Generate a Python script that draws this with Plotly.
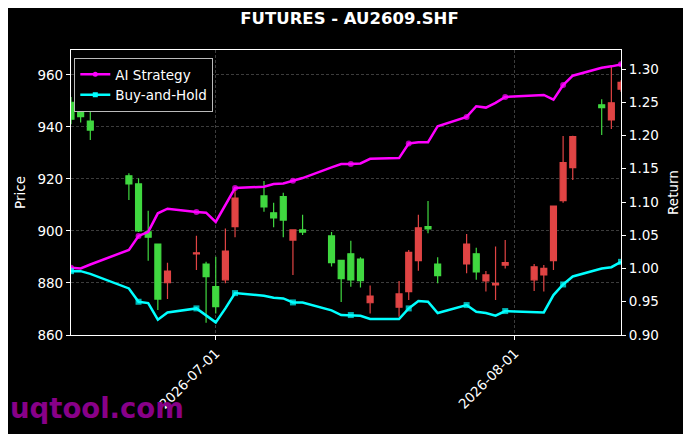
import plotly.graph_objects as go

# trading days shown on the chart
dates = [
    "2026-06-16", "2026-06-17", "2026-06-18", "2026-06-22", "2026-06-23",
    "2026-06-24", "2026-06-25", "2026-06-26", "2026-06-29", "2026-06-30",
    "2026-07-01", "2026-07-02", "2026-07-03", "2026-07-06", "2026-07-07",
    "2026-07-08", "2026-07-09", "2026-07-10", "2026-07-13", "2026-07-14",
    "2026-07-15", "2026-07-16", "2026-07-17", "2026-07-20", "2026-07-21",
    "2026-07-22", "2026-07-23", "2026-07-24", "2026-07-27", "2026-07-28",
    "2026-07-29", "2026-07-30", "2026-07-31", "2026-08-03", "2026-08-04",
    "2026-08-05", "2026-08-06", "2026-08-07", "2026-08-10", "2026-08-11",
    "2026-08-12",
]

opens = [949.5, 949.0, 942.3, 921.2, 918.1, 899.7, 895.0, 880.1, 891.2, 887.3,
         878.6, 881.2, 901.7, 913.5, 907.0, 913.2, 896.5, 900.4, 898.1, 888.7,
         891.2, 889.2, 872.4, 870.7, 876.7, 888.6, 901.7, 887.3, 887.3, 891.2,
         880.8, 879.3, 886.9, 881.2, 883.1, 888.6, 911.7, 924.4, 948.5, 942.7,
         954.5]
highs = [951.5, 950.0, 953.0, 922.2, 920.3, 907.8, 895.2, 887.8, 898.2, 888.2,
         890.1, 901.0, 915.8, 919.2, 910.9, 914.7, 900.6, 906.2, 899.6, 888.9,
         896.2, 889.9, 879.0, 880.8, 892.7, 906.2, 911.5, 889.9, 898.8, 893.6,
         884.6, 894.0, 896.5, 887.3, 886.9, 909.8, 936.5, 936.6, 950.7, 963.8,
         958.0]
lows = [941.0, 941.7, 935.0, 911.9, 899.6, 888.6, 869.6, 873.8, 885.0, 864.7,
        868.3, 879.9, 897.6, 907.4, 901.4, 897.6, 883.1, 898.5, 886.3, 872.7,
        878.6, 878.3, 868.3, 867.0, 873.5, 884.7, 899.1, 879.9, 883.7, 881.2,
        876.7, 873.5, 885.6, 876.9, 876.7, 885.0, 910.9, 919.6, 936.9, 939.2,
        953.5]
closes = [943.0, 944.0, 938.8, 918.1, 900.0, 897.6, 873.8, 884.6, 891.6, 882.4,
          870.9, 892.3, 912.6, 909.3, 905.0, 904.2, 900.4, 899.6, 887.8, 881.7,
          881.2, 880.9, 875.0, 875.8, 891.8, 901.2, 900.8, 882.8, 895.0, 884.3,
          883.1, 879.9, 887.8, 886.2, 885.6, 909.6, 926.3, 936.3, 947.4, 949.3,
          957.2]

ai_return = [1.001, 1.000, 1.006, 1.028, 1.049, 1.055, 1.083, 1.090, 1.085, 1.084,
             1.070, 1.095, 1.121, 1.123, 1.127, 1.128, 1.132, 1.136, 1.152, 1.157,
             1.157, 1.158, 1.165, 1.166, 1.188, 1.190, 1.190, 1.214, 1.228, 1.244,
             1.242, 1.249, 1.258, 1.260, 1.261, 1.254, 1.276, 1.290, 1.302, 1.304,
             1.307]
bh_return = [0.996, 0.996, 0.992, 0.970, 0.950, 0.948, 0.923, 0.934, 0.940, 0.930,
             0.919, 0.940, 0.963, 0.959, 0.956, 0.955, 0.949, 0.949, 0.937, 0.930,
             0.930, 0.929, 0.924, 0.924, 0.940, 0.951, 0.950, 0.933, 0.945, 0.935,
             0.933, 0.929, 0.936, 0.935, 0.934, 0.960, 0.976, 0.988, 1.000, 1.002,
             1.010]

price_ticks = [860, 880, 900, 920, 940, 960]
return_ticks = [0.90, 0.95, 1.00, 1.05, 1.10, 1.15, 1.20, 1.25, 1.30]
date_ticks = ["2026-07-01", "2026-08-01"]

FONT = "DejaVu Sans"
UP = "#e04444"
DOWN = "#40d840"

# marker on every 4th point only
msizes = [6 if i % 4 == 0 else 0 for i in range(len(dates))]

fig = go.Figure()

fig.add_trace(go.Candlestick(
    x=dates, open=opens, high=highs, low=lows, close=closes,
    increasing=dict(line=dict(color=UP, width=1.2), fillcolor=UP),
    decreasing=dict(line=dict(color=DOWN, width=1.2), fillcolor=DOWN),
    whiskerwidth=0, showlegend=False, hoverinfo="x+y",
))

for name, vals, color, sym in [("AI Strategy", ai_return, "#ff00ff", "circle"),
                               ("Buy-and-Hold", bh_return, "#00ffff", "square")]:
    fig.add_trace(go.Scatter(
        x=dates, y=vals, yaxis="y2", mode="lines+markers", name=name,
        line=dict(color=color, width=2.5),
        marker=dict(color=color, size=msizes, symbol=sym, line=dict(width=0)),
        showlegend=False, legendgroup=name,
    ))
    # legend entry
    fig.add_trace(go.Scatter(
        x=[None], y=[None], yaxis="y2", mode="lines+markers", name=name,
        line=dict(color=color, width=2.5),
        marker=dict(color=color, size=5, symbol=sym),
        legendgroup=name,
    ))

axis_common = dict(
    showline=True, linecolor="white", linewidth=1.2,
    ticks="outside", ticklen=4, tickcolor="white",
    tickfont=dict(family=FONT, size=13.5, color="white"),
    zeroline=False,
)

# the page body adds an 8px offset, so the figure is 8px smaller and margins shifted
fig.update_layout(
    width=683, height=426,
    paper_bgcolor="black", plot_bgcolor="black",
    margin=dict(l=59, r=70, t=42, b=99),
    font=dict(family=FONT, color="white"),
    title=dict(text="<b>FUTURES - AU2609.SHF</b>", x=0.5, xanchor="center",
               y=1 - 10 / 426, yanchor="middle",
               font=dict(family=FONT, size=16.5, color="white")),
    xaxis=dict(
        type="date", range=["2026-06-16", "2026-08-12"],
        tickvals=date_ticks, ticktext=date_ticks, tickangle=-45,
        showgrid=True, gridcolor="#3c3c3c", griddash="3px,2px", gridwidth=1,
        mirror=True, rangeslider=dict(visible=False),
        **axis_common,
    ),
    yaxis=dict(
        range=[860, 969.6], tickvals=price_ticks,
        showgrid=True, gridcolor="#3c3c3c", griddash="3px,2px", gridwidth=1,
        title=dict(text="Price", font=dict(family=FONT, size=13.5, color="white"),
                   standoff=8),
        mirror=True,
        **axis_common,
    ),
    yaxis2=dict(
        overlaying="y", side="right", range=[0.90, 1.3286],
        tickvals=return_ticks, tickformat=".2f", showgrid=False,
        title=dict(text="Return", font=dict(family=FONT, size=13.5, color="white"),
                   standoff=10),
        **axis_common,
    ),
    legend=dict(
        x=0.006, y=0.972, xanchor="left", yanchor="top",
        bgcolor="black", bordercolor="#bbbbbb", borderwidth=1,
        font=dict(family=FONT, size=13.5, color="white"),
        tracegroupgap=0, itemwidth=30,
    ),
    boxgap=0.12,
    annotations=[dict(
        text="<b>uqtool.com</b>", xref="paper", yref="paper",
        x=-0.114, y=-0.256, xanchor="left", yanchor="middle", showarrow=False,
        font=dict(family=FONT, size=27.5, color="#880088"),
    )],
)

fig.write_html("out.html")
